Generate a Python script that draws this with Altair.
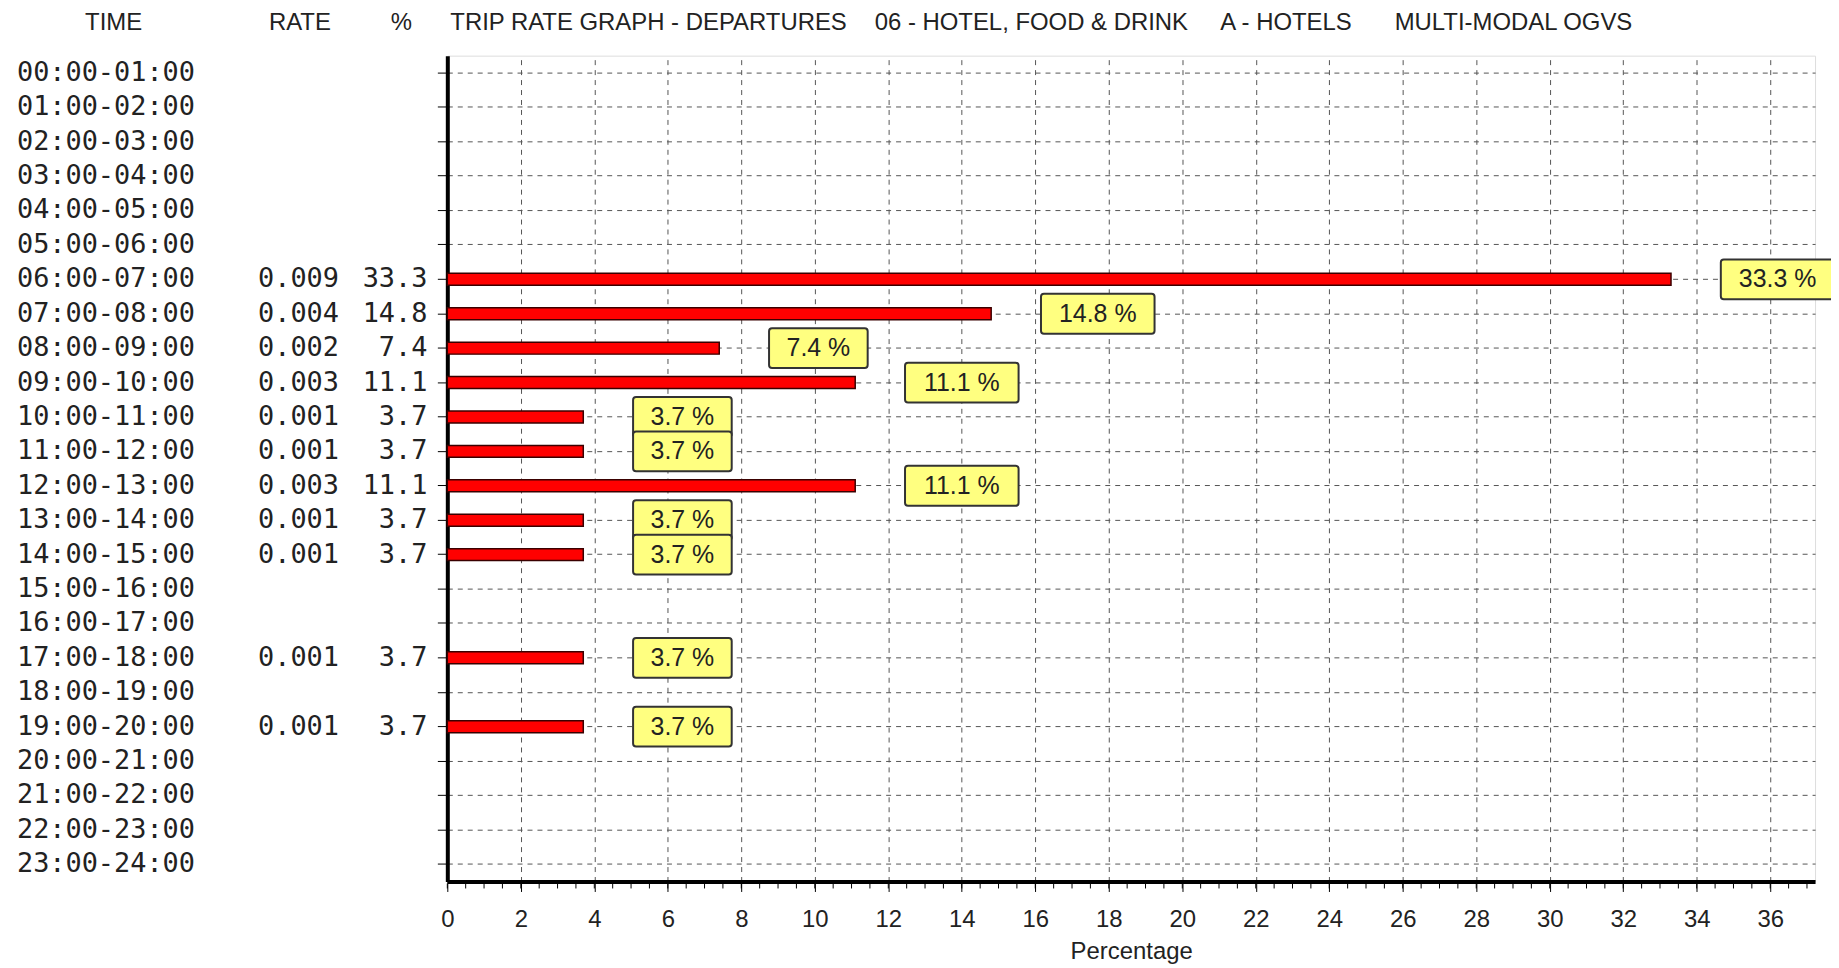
import altair as alt
import pandas as pd

times = ["00:00-01:00", "01:00-02:00", "02:00-03:00", "03:00-04:00",
         "04:00-05:00", "05:00-06:00", "06:00-07:00", "07:00-08:00",
         "08:00-09:00", "09:00-10:00", "10:00-11:00", "11:00-12:00",
         "12:00-13:00", "13:00-14:00", "14:00-15:00", "15:00-16:00",
         "16:00-17:00", "17:00-18:00", "18:00-19:00", "19:00-20:00",
         "20:00-21:00", "21:00-22:00", "22:00-23:00", "23:00-24:00"]
rates = [None, None, None, None, None, None, 0.009, 0.004, 0.002, 0.003,
         0.001, 0.001, 0.003, 0.001, 0.001, None, None, 0.001, None, 0.001,
         None, None, None, None]
pcts = [None, None, None, None, None, None, 33.3, 14.8, 7.4, 11.1,
        3.7, 3.7, 11.1, 3.7, 3.7, None, None, 3.7, None, 3.7,
        None, None, None, None]
x_ticks = list(range(0, 37, 2))
x_max = 37.22

header_cols = ["TIME", "RATE", "%"]
title_parts = ["TRIP RATE GRAPH - DEPARTURES", "06 - HOTEL, FOOD & DRINK",
               "A - HOTELS", "MULTI-MODAL  OGVS"]

df = pd.DataFrame({"time": times, "rate": rates, "pct": pcts})

W, H = 1373, 829
MONO = "DejaVu Sans Mono"
SANS = "Liberation Sans"

yenc = alt.Y("time:N", sort=times,
             scale=alt.Scale(domain=times, paddingInner=0, paddingOuter=0),
             axis=alt.Axis(labels=False, title=None, ticks=True, tickSize=10,
                           tickColor="black", tickWidth=1,
                           grid=True, gridDash=[5, 5], gridColor="#555", gridWidth=1,
                           domain=True, domainWidth=4, domainColor="black"))
xenc = alt.X("pct:Q", scale=alt.Scale(domain=[0, x_max], nice=False, zero=True),
             axis=alt.Axis(values=x_ticks, title="Percentage", grid=True,
                           gridDash=[5, 5], gridColor="#555", gridWidth=1,
                           domainWidth=4, domainColor="black",
                           tickSize=10, tickColor="black", tickWidth=1,
                           labelFont=SANS, labelFontSize=24, labelColor="#222",
                           labelPadding=16, labelFlush=False,
                           titleFont=SANS, titleFontSize=24, titleFontWeight="normal",
                           titleColor="#222", titlePadding=8))

base = alt.Chart(df)
valid = base.transform_filter("isValid(datum.pct)")

bars = valid.mark_bar(size=12, fill="#ff0000", stroke="#3a0000", strokeWidth=1.5).encode(
    x=xenc, y=yenc)

lab = valid.transform_calculate(label="format(datum.pct, '.1f') + ' %'")
small = lab.transform_filter("datum.pct < 10")
large = lab.transform_filter("datum.pct >= 10")

box_style = dict(size=40, fill="#ffff80", stroke="#333", strokeWidth=2, cornerRadius=3)
box_s = small.mark_bar(xOffset=50, x2Offset=149, **box_style).encode(
    x="pct:Q", x2="pct:Q", y=alt.Y("time:N", sort=times))
box_l = large.mark_bar(xOffset=50, x2Offset=164, **box_style).encode(
    x="pct:Q", x2="pct:Q", y=alt.Y("time:N", sort=times))
txt_s = small.mark_text(font=SANS, fontSize=25, color="#222", align="center",
                        baseline="middle", dx=99.5).encode(
    x="pct:Q", y=alt.Y("time:N", sort=times), text="label:N")
txt_l = large.mark_text(font=SANS, fontSize=25, color="#222", align="center",
                        baseline="middle", dx=107).encode(
    x="pct:Q", y=alt.Y("time:N", sort=times), text="label:N")

time_lbl = base.mark_text(font=MONO, fontSize=27, color="#222", align="left",
                          baseline="middle").encode(
    x=alt.value(-432), y=alt.Y("time:N", sort=times), text="time:N")
rate_lbl = valid.mark_text(font=MONO, fontSize=27, color="#222", align="left",
                           baseline="middle").encode(
    x=alt.value(-190), y=alt.Y("time:N", sort=times),
    text=alt.Text("rate:Q", format=".3f"))
pct_lbl = valid.mark_text(font=MONO, fontSize=27, color="#222", align="right",
                          baseline="middle").encode(
    x=alt.value(-20), y=alt.Y("time:N", sort=times),
    text=alt.Text("pct:Q", format=".1f"))

minor = alt.Chart(alt.sequence(0, 37.5, 0.5, as_="v")).mark_rule(
    color="black", strokeWidth=1).encode(
    x="v:Q", y=alt.value(H + 2), y2=alt.value(H + 7))


def label(txt, x, align):
    return alt.Chart(pd.DataFrame({"t": [txt]})).mark_text(
        font=SANS, fontSize=24, color="#222", align=align, baseline="middle").encode(
        text="t:N", x=alt.value(x), y=alt.value(-33))


heads = [label(header_cols[0], -335, "center"),
         label(header_cols[1], -148, "center"),
         label(header_cols[2], -46, "center"),
         label(title_parts[0], 3, "left"),
         label(title_parts[1], 429, "left"),
         label(title_parts[2], 776, "left"),
         label(title_parts[3], 951, "left")]

chart = alt.layer(bars, box_s, box_l, txt_s, txt_l, time_lbl, rate_lbl, pct_lbl,
                  minor, *heads).properties(
    width=W, height=H,
    padding={"left": 441, "top": 46, "right": 16, "bottom": 90},
    autosize=alt.AutoSizeParams(type="none"),
).configure_view(stroke="black", strokeWidth=2).configure(background="white")

chart.save("out.html", embed_options={"renderer": "svg", "actions": False})
